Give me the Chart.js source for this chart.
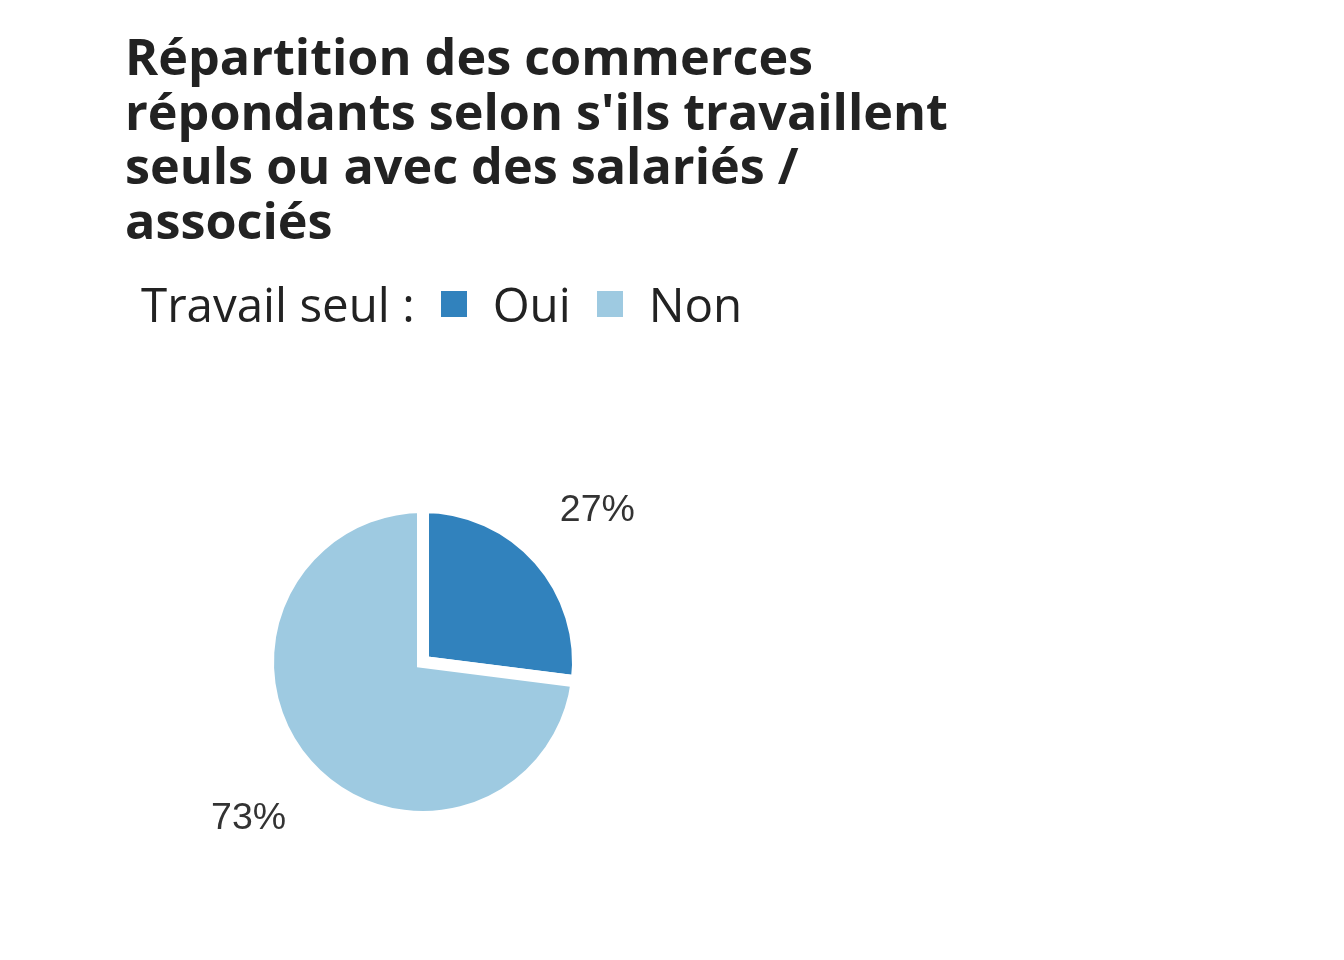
<!DOCTYPE html>
<html lang="fr">
<head>
<meta charset="utf-8">
<script src="https://cdn.jsdelivr.net/npm/chart.js@4/dist/chart.umd.min.js"></script>
<style>
  html, body { margin: 0; padding: 0; background: #fff; }
  body { width: 1344px; height: 960px; position: relative; overflow: hidden; font-family: "Open Sans", sans-serif; color: #222; }
  #title { position: absolute; left: 125px; top: 29px; margin: 0; font-size: 50.3px; font-weight: 700; line-height: 54.5px; z-index: 2; white-space: nowrap; }
  #legend { position: absolute; left: 141px; top: 272px; font-size: 47.5px; line-height: 64px; display: flex; align-items: center; z-index: 2; white-space: nowrap; }
  #legend .sw { display: inline-block; width: 26px; height: 26px; margin: 0 26px 0 0; }
  #legend .lbl { margin-right: 26px; }
  #wrap { position: absolute; left: 0; top: 0; width: 1344px; height: 960px; }
</style>
</head>
<body>
<h1 id="title">Répartition des commerces<br>répondants selon s'ils travaillent<br>seuls ou avec des salariés /<br>associés</h1>
<div id="legend"></div>
<div id="wrap"><canvas id="pie"></canvas></div>
<script>
const categories = ['Oui', 'Non'];
const shares = [27, 73];
const colors = ['#3182bd', '#9ecae1'];

// legend: "Travail seul :" followed by the swatches
const legend = document.getElementById('legend');
legend.innerHTML = '<span style="margin-right:26px">Travail seul :</span>' +
  categories.map((c, i) => `<span class="sw" style="background:${colors[i]}"></span><span class="lbl">${c}</span>`).join('');

const pctLabels = {
  id: 'pctLabels',
  afterDatasetsDraw(chart) {
    const ctx = chart.ctx;
    const meta = chart.getDatasetMeta(0);
    ctx.save();
    ctx.font = '37.5px "Liberation Sans", Arial, sans-serif';
    ctx.fillStyle = '#333';
    ctx.textAlign = 'center';
    ctx.textBaseline = 'alphabetic';
    meta.data.forEach((arc, i) => {
      const { x, y, startAngle, endAngle, outerRadius } = arc.getProps(['x', 'y', 'startAngle', 'endAngle', 'outerRadius'], true);
      const mid = (startAngle + endAngle) / 2;
      const r = outerRadius * 1.5;
      ctx.fillText(shares[i] + '%', x + Math.cos(mid) * r, y + Math.sin(mid) * r + 13);
    });
    ctx.restore();
  }
};

new Chart(document.getElementById('pie'), {
  type: 'pie',
  data: {
    labels: categories,
    datasets: [{
      data: shares,
      backgroundColor: colors,
      borderColor: '#ffffff',
      borderWidth: 12,
      hoverBorderWidth: 12,
      borderJoinStyle: 'miter'
    }]
  },
  options: {
    responsive: true,
    maintainAspectRatio: false,
    animation: false,
    events: [],
    layout: { padding: { left: 262, right: 760, top: 501, bottom: 137 } },
    plugins: {
      legend: { display: false },
      tooltip: { enabled: false }
    }
  },
  plugins: [pctLabels]
});
</script>
</body>
</html>
